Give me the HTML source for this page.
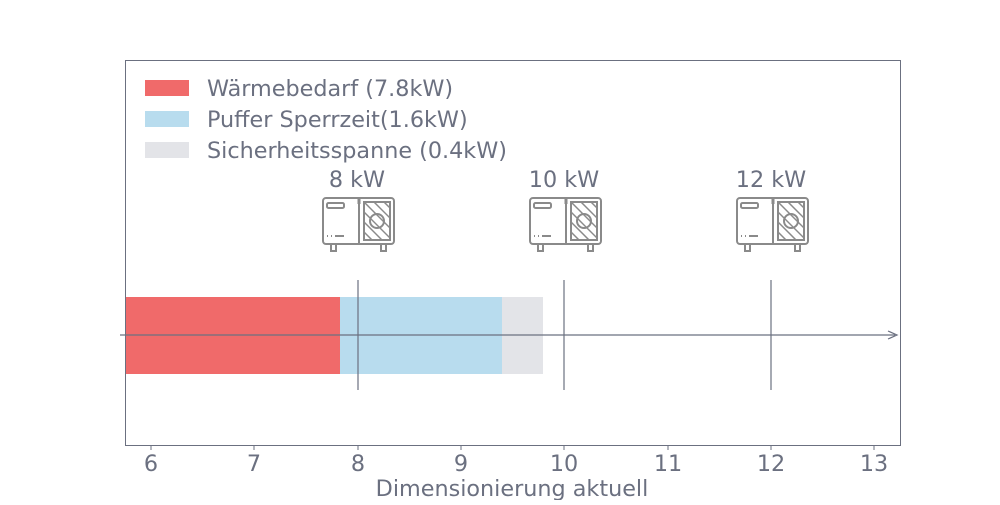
<!DOCTYPE html>
<html><head><meta charset="utf-8"><style>
body{margin:0;background:#fff}
svg text{font-family:"DejaVu Sans","Liberation Sans",sans-serif;fill:#6b7080}
</style></head><body>
<svg width="1000" height="500" xmlns="http://www.w3.org/2000/svg">
<defs>
<clipPath id="g"><rect x="42" y="5" width="26" height="38"/></clipPath>
<g id="ic" fill="none" stroke="#8a8a8a" stroke-width="2">
<rect x="1" y="1" width="71" height="46" rx="3"/>
<line x1="37" y1="1" x2="37" y2="47"/>
<line x1="37" y1="1" x2="37" y2="7" stroke-width="3"/>
<rect x="5" y="6" width="17" height="5" rx="1.5"/>
<rect x="42" y="5" width="26" height="38"/>
<g clip-path="url(#g)" stroke-width="1.5">
<line x1="42" y1="-15" x2="78" y2="21"/><line x1="42" y1="-5" x2="78" y2="31"/><line x1="42" y1="5" x2="78" y2="41"/><line x1="42" y1="15" x2="78" y2="51"/><line x1="42" y1="25" x2="78" y2="61"/><line x1="42" y1="35" x2="78" y2="71"/>
</g>
<circle cx="55" cy="24" r="7"/>
<line x1="5" y1="39" x2="6" y2="39"/><line x1="9" y1="39" x2="10" y2="39"/><line x1="13" y1="39" x2="22" y2="39"/>
<rect x="9" y="47" width="5" height="7"/><rect x="59" y="47" width="5" height="7"/>
</g>
</defs>
<rect x="125.5" y="60.5" width="775" height="385" fill="none" stroke="#6b7080" stroke-width="1"/>
<rect x="145" y="80" width="44" height="16" fill="#f06a6a"/>
<rect x="145" y="111" width="44" height="16" fill="#b8dcee"/>
<rect x="145" y="142" width="44" height="16" fill="#e3e4e8"/>
<g font-size="22.3">
<text x="207" y="96">Wärmebedarf (7.8kW)</text>
<text x="207" y="127">Puffer Sperrzeit(1.6kW)</text>
<text x="207" y="158">Sicherheitsspanne (0.4kW)</text>
</g>
<rect x="126" y="297" width="214" height="77" fill="#f06a6a"/>
<rect x="340" y="297" width="162" height="77" fill="#b8dcee"/>
<rect x="502" y="297" width="41" height="77" fill="#e3e4e8"/>
<g stroke="#6b7080" stroke-width="1.2">
<line x1="120" y1="335" x2="895" y2="335"/>
<line x1="358" y1="280" x2="358" y2="390"/>
<line x1="564" y1="280" x2="564" y2="390"/>
<line x1="771" y1="280" x2="771" y2="390"/>
</g>
<path d="M888,331 L897,335 L888,339" fill="none" stroke="#6b7080" stroke-width="1.2"/>
<g font-size="22.3" text-anchor="middle">
<text x="357" y="187">8 kW</text>
<text x="564" y="187">10 kW</text>
<text x="771" y="187">12 kW</text>
</g>
<use href="#ic" x="322" y="197"/>
<use href="#ic" x="529" y="197"/>
<use href="#ic" x="736" y="197"/>
<g stroke="#6b7080"><line x1="151" y1="446" x2="151" y2="450"/><line x1="254" y1="446" x2="254" y2="450"/><line x1="358" y1="446" x2="358" y2="450"/><line x1="461" y1="446" x2="461" y2="450"/><line x1="564" y1="446" x2="564" y2="450"/><line x1="668" y1="446" x2="668" y2="450"/><line x1="771" y1="446" x2="771" y2="450"/><line x1="874" y1="446" x2="874" y2="450"/></g>
<g font-size="22.3" text-anchor="middle">
<text x="151" y="471">6</text><text x="254" y="471">7</text><text x="358" y="471">8</text><text x="461" y="471">9</text><text x="564" y="471">10</text><text x="668" y="471">11</text><text x="771" y="471">12</text><text x="874" y="471">13</text>
<text x="512" y="496">Dimensionierung aktuell</text>
</g>
</svg>
</body></html>
